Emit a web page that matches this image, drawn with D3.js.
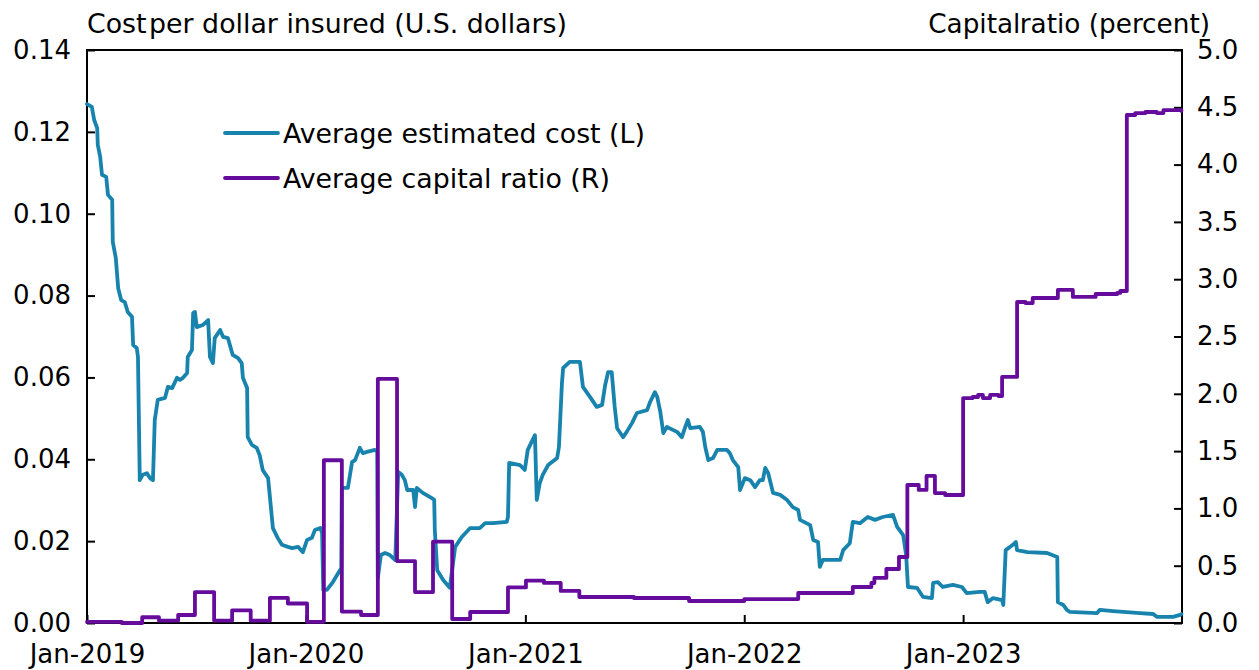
<!DOCTYPE html>
<html>
<head>
<meta charset="utf-8">
<script src="https://cdn.jsdelivr.net/npm/d3@7"></script>
<style>
  body { margin: 0; background: #fff; }
  text { font-family: "DejaVu Sans", sans-serif; fill: #000; }
</style>
</head>
<body>
<svg id="chart" width="1259" height="670"></svg>
<script>
// ---------------- DATA ----------------
const seriesNames = ["Average estimated cost (L)", "Average capital ratio (R)"];
const leftTitle = ["Cost ", "per dollar insured (U.S. dollars)"];
const rightTitle = ["Capital ", "ratio (percent)"];

const leftTicks = [0, 0.02, 0.04, 0.06, 0.08, 0.10, 0.12, 0.14];
const rightTicks = [0, 0.5, 1.0, 1.5, 2.0, 2.5, 3.0, 3.5, 4.0, 4.5, 5.0];
const xTickDates = ["2019-01-01", "2020-01-01", "2021-01-01", "2022-01-01", "2023-01-01"];
const xTickLabels = ["Jan-2019", "Jan-2020", "Jan-2021", "Jan-2022", "Jan-2023"];

const costDates = [
"2019-01-01","2019-01-09","2019-01-13","2019-01-18","2019-01-19","2019-01-23","2019-01-26","2019-02-02","2019-02-05","2019-02-12",
"2019-02-13","2019-02-18","2019-02-22","2019-02-27","2019-03-05","2019-03-10","2019-03-17","2019-03-19","2019-03-25","2019-03-27",
"2019-03-30","2019-04-04","2019-04-11","2019-04-16","2019-04-21","2019-04-24","2019-04-29","2019-05-11","2019-05-16","2019-05-23",
"2019-05-31","2019-06-05","2019-06-10","2019-06-17","2019-06-18","2019-06-25","2019-06-27","2019-06-30","2019-07-03","2019-07-13",
"2019-07-22","2019-07-25","2019-07-30","2019-08-02","2019-08-11","2019-08-16","2019-08-24","2019-09-01","2019-09-10","2019-09-16",
"2019-09-18","2019-09-25","2019-09-26","2019-10-03","2019-10-11","2019-10-16","2019-10-21","2019-10-30","2019-11-02","2019-11-07",
"2019-11-15","2019-11-22","2019-12-02","2019-12-09","2019-12-19","2019-12-27","2020-01-03","2020-01-11","2020-01-16","2020-01-25",
"2020-01-28","2020-01-30","2020-02-05","2020-02-15","2020-02-24","2020-02-29","2020-03-01","2020-03-11","2020-03-18","2020-03-23",
"2020-03-31","2020-04-05","2020-04-12","2020-04-25","2020-04-29","2020-04-30","2020-05-05","2020-05-12","2020-05-20","2020-05-29",
"2020-06-03","2020-06-09","2020-06-14","2020-06-18","2020-06-28","2020-07-01","2020-07-04","2020-07-14","2020-07-29","2020-08-02",
"2020-08-03","2020-08-07","2020-08-17","2020-08-28","2020-09-06","2020-09-17","2020-10-01","2020-10-17","2020-10-26","2020-11-08",
"2020-12-01","2020-12-03","2020-12-05","2020-12-23","2020-12-31","2021-01-05","2021-01-17","2021-01-20","2021-01-25","2021-01-30",
"2021-02-08","2021-02-23","2021-02-26","2021-03-03","2021-03-05","2021-03-16","2021-04-02","2021-04-07","2021-04-19","2021-04-30",
"2021-05-09","2021-05-14","2021-05-19","2021-05-25","2021-05-30","2021-06-03","2021-06-13","2021-06-19","2021-06-28","2021-07-06",
"2021-07-23","2021-07-28","2021-08-05","2021-08-09","2021-08-14","2021-08-19","2021-08-25","2021-09-11","2021-09-19","2021-09-24",
"2021-09-29","2021-10-03","2021-10-19","2021-10-24","2021-10-28","2021-11-02","2021-11-10","2021-11-17","2021-12-03","2021-12-08",
"2021-12-13","2021-12-22","2021-12-25","2022-01-02","2022-01-11","2022-01-19","2022-01-27","2022-02-01","2022-02-05","2022-02-10",
"2022-02-18","2022-03-02","2022-03-13","2022-03-23","2022-04-01","2022-04-04","2022-04-21","2022-04-26","2022-05-04","2022-05-07",
"2022-05-12","2022-06-10","2022-06-15","2022-06-26","2022-07-01","2022-07-13","2022-07-26","2022-08-07","2022-08-20","2022-09-06",
"2022-09-13","2022-09-23","2022-09-28","2022-10-01","2022-10-16","2022-10-26","2022-11-10","2022-11-12","2022-11-20","2022-11-28",
"2022-12-15","2022-12-30","2023-01-07","2023-01-29","2023-02-06","2023-02-11","2023-02-20","2023-03-07","2023-03-09","2023-03-13",
"2023-03-25","2023-03-30","2023-04-01","2023-04-18","2023-05-21","2023-06-07","2023-06-08","2023-06-17","2023-06-23","2023-06-28",
"2023-08-12","2023-08-17","2023-09-08","2023-10-23","2023-11-14","2023-11-20","2023-12-17","2023-12-29","2023-12-31"
];
const costValues = [
0.1268,0.1261,0.1229,0.1209,0.1168,0.1139,0.1095,0.1090,0.1046,0.1034,
0.0931,0.0892,0.0818,0.0789,0.0784,0.0760,0.0748,0.0679,0.0672,0.0650,
0.0349,0.0362,0.0366,0.0354,0.0349,0.0496,0.0545,0.0550,0.0577,0.0574,
0.0599,0.0594,0.0599,0.0611,0.0650,0.0667,0.0757,0.0760,0.0723,0.0728,
0.0740,0.0650,0.0635,0.0696,0.0716,0.0699,0.0696,0.0655,0.0647,0.0635,
0.0599,0.0574,0.0454,0.0435,0.0428,0.0410,0.0374,0.0354,0.0308,0.0232,
0.0208,0.0191,0.0186,0.0183,0.0186,0.0173,0.0203,0.0208,0.0227,0.0232,
0.0220,0.0081,0.0081,0.0100,0.0122,0.0134,0.0330,0.0330,0.0393,0.0398,
0.0428,0.0415,0.0418,0.0423,0.0418,0.0110,0.0166,0.0171,0.0166,0.0154,
0.0369,0.0362,0.0349,0.0325,0.0325,0.0283,0.0330,0.0318,0.0305,0.0301,
0.0227,0.0129,0.0105,0.0086,0.0186,0.0210,0.0232,0.0232,0.0244,0.0244,
0.0247,0.0259,0.0391,0.0386,0.0374,0.0423,0.0459,0.0301,0.0342,0.0362,
0.0386,0.0403,0.0430,0.0586,0.0623,0.0638,0.0638,0.0577,0.0552,0.0528,
0.0533,0.0581,0.0613,0.0613,0.0528,0.0476,0.0454,0.0467,0.0489,0.0513,
0.0520,0.0540,0.0564,0.0552,0.0516,0.0464,0.0479,0.0467,0.0454,0.0476,
0.0496,0.0476,0.0479,0.0467,0.0430,0.0398,0.0403,0.0423,0.0423,0.0415,
0.0398,0.0381,0.0325,0.0354,0.0349,0.0332,0.0349,0.0349,0.0379,0.0366,
0.0318,0.0313,0.0301,0.0283,0.0276,0.0252,0.0239,0.0203,0.0198,0.0137,
0.0154,0.0154,0.0178,0.0195,0.0247,0.0244,0.0259,0.0252,0.0259,0.0264,
0.0235,0.0215,0.0166,0.0088,0.0086,0.0064,0.0061,0.0098,0.0100,0.0088,
0.0093,0.0088,0.0073,0.0076,0.0076,0.0051,0.0061,0.0056,0.0044,0.0178,
0.0191,0.0198,0.0178,0.0173,0.0171,0.0161,0.0051,0.0044,0.0032,0.0027,
0.0024,0.0032,0.0029,0.0024,0.0022,0.0015,0.0015,0.0020,0.0022
];

const ratioDates = [
"2019-01-01","2019-02-28","2019-04-03","2019-05-01","2019-06-02","2019-06-30","2019-08-01","2019-08-31","2019-10-01","2019-11-02",
"2019-12-02","2020-01-03","2020-01-31","2020-03-01","2020-04-02","2020-04-30","2020-06-01","2020-07-01","2020-07-31","2020-09-01",
"2020-10-01","2020-12-03","2021-01-02","2021-02-01","2021-03-01","2021-04-01","2021-07-01","2021-10-01","2022-01-01","2022-04-01",
"2022-07-01","2022-08-01","2022-08-06","2022-08-26","2022-09-16","2022-09-30","2022-10-19","2022-11-01","2022-11-15","2022-12-02",
"2023-01-01","2023-01-17","2023-01-26","2023-02-03","2023-02-15","2023-03-01","2023-03-07","2023-04-01","2023-04-15","2023-04-27",
"2023-06-08","2023-07-03","2023-08-10","2023-09-15","2023-09-20","2023-10-01","2023-10-15","2023-11-01","2023-11-20","2023-12-01",
"2023-12-31"
];
const ratioValues = [
0.01,0.00,0.05,0.02,0.07,0.27,0.02,0.11,0.02,0.22,
0.17,0.01,1.42,0.10,0.07,2.13,0.54,0.27,0.71,0.035,
0.096,0.31,0.37,0.35,0.28,0.227,0.218,0.192,0.209,0.262,
0.314,0.349,0.393,0.471,0.576,1.204,1.161,1.283,1.134,1.117,
1.963,1.972,1.99,1.963,1.99,1.98,2.147,2.801,2.792,2.836,
2.906,2.845,2.871,2.88,2.897,4.433,4.45,4.459,4.45,4.476,
4.468
];

const colors = ["#1884ae", "#650c9c"];

// ---------------- CHART ----------------
const svg = d3.select("#chart");
const plotL = 87, plotR = 1182, plotT = 50, plotB = 623;
const parseDate = d3.timeParse("%Y-%m-%d");
const FS = 26;
const FS_TITLE = 26.8;
const LW = 3.8;

const x = d3.scaleTime()
  .domain([parseDate("2019-01-01"), parseDate("2024-01-01")])
  .range([plotL, plotR]);
const yL = d3.scaleLinear().domain([0, 0.14]).range([plotB, plotT]);
const yR = d3.scaleLinear().domain([0, 5]).range([plotB, plotT]);

const cost = costDates.map((d, i) => ({ date: parseDate(d), value: costValues[i] }));
const ratio = ratioDates.map((d, i) => ({ date: parseDate(d), value: ratioValues[i] }));

// axes
const axL = svg.append("g").attr("transform", `translate(${plotL},0)`)
  .call(d3.axisLeft(yL).tickValues(leftTicks).tickSize(-8).tickPadding(16)
    .tickFormat(d3.format(".2f")));
const axR = svg.append("g").attr("transform", `translate(${plotR},0)`)
  .call(d3.axisRight(yR).tickValues(rightTicks).tickSize(-8).tickPadding(15)
    .tickFormat(d3.format(".1f")));
const axB = svg.append("g").attr("transform", `translate(0,${plotB})`)
  .call(d3.axisBottom(x).tickValues(xTickDates.map(parseDate)).tickSize(-8).tickPadding(22)
    .tickFormat((d, i) => xTickLabels[i]));

[axL, axR, axB].forEach(g => {
  g.select(".domain").remove();
  g.selectAll(".tick line").attr("stroke", "#000").attr("stroke-width", 2);
  g.selectAll(".tick text").attr("font-size", FS).attr("font-family", "DejaVu Sans");
});

// frame
svg.append("rect")
  .attr("x", plotL).attr("y", plotT)
  .attr("width", plotR - plotL).attr("height", plotB - plotT)
  .attr("fill", "none").attr("stroke", "#000").attr("stroke-width", 2);

// lines
const lineCost = d3.line().x(d => x(d.date)).y(d => yL(d.value)).curve(d3.curveLinear);
const lineRatio = d3.line().x(d => x(d.date)).y(d => yR(d.value)).curve(d3.curveStepAfter);

svg.append("path").datum(cost)
  .attr("d", lineCost).attr("fill", "none")
  .attr("stroke", colors[0]).attr("stroke-width", LW)
  .attr("stroke-linejoin", "round").attr("stroke-linecap", "round");

svg.append("path").datum(ratio)
  .attr("d", lineRatio).attr("fill", "none")
  .attr("stroke", colors[1]).attr("stroke-width", LW)
  .attr("stroke-linejoin", "round").attr("stroke-linecap", "round");

// titles
const t1 = svg.append("text").attr("x", plotL).attr("y", 33).attr("font-size", FS_TITLE);
t1.append("tspan").text(leftTitle[0]);
t1.append("tspan").attr("dx", -6).text(leftTitle[1]);

const t2 = svg.append("text").attr("x", 1210).attr("y", 33).attr("font-size", 26.3)
  .attr("text-anchor", "end");
t2.append("tspan").text(rightTitle[0]);
t2.append("tspan").attr("dx", -9).text(rightTitle[1]);

// legend
const legY = [133, 178];
seriesNames.forEach((name, i) => {
  svg.append("line")
    .attr("x1", 225).attr("x2", 278)
    .attr("y1", legY[i]).attr("y2", legY[i])
    .attr("stroke", colors[i]).attr("stroke-width", LW)
    .attr("stroke-linecap", "round");
  svg.append("text")
    .attr("x", 283).attr("y", legY[i]).attr("dy", "0.36em")
    .attr("font-size", FS_TITLE).text(name);
});
</script>
</body>
</html>
